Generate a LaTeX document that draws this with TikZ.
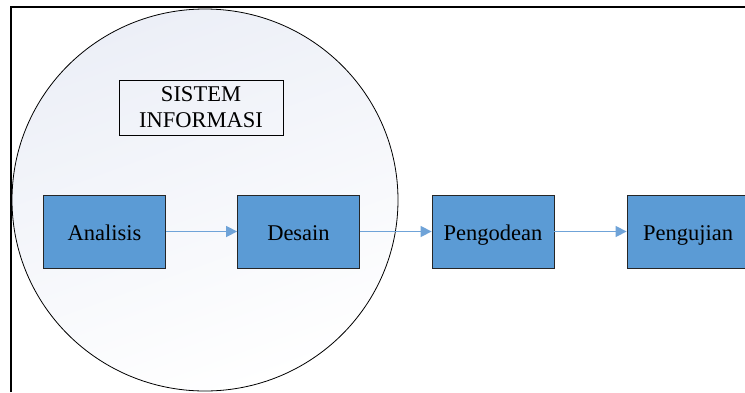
\documentclass[tikz,border=0pt]{standalone}
\usepackage{fontspec}
\setmainfont{Liberation Serif}
\usetikzlibrary{arrows.meta}
\definecolor{tahapbiru}{HTML}{5B9BD5}
\definecolor{panahbiru}{HTML}{6FA3D8}
\definecolor{lingkar}{HTML}{ECEFF7}
\tikzset{
	tahap/.style={draw=black!85, fill=tahapbiru, line width=.8pt, minimum width=122pt, minimum height=73pt, inner sep=0pt, text height=19pt, text depth=2pt},
	alur/.style={draw=panahbiru, line width=1.5pt, -{Triangle[length=11pt,width=11pt]}}
}

\begin{document}
\begin{tikzpicture}[x=1pt,y=-1pt, every node/.style={font=\fontsize{22.5}{26}\selectfont}]
		\clip (0,0) rectangle (745,392);
		\draw[line width=2pt] (11,392) -- (11,7) -- (745,7);
		\draw[line width=.8pt, top color=lingkar, bottom color=white, shading angle=20] (205,200) ellipse (193 and 191);
		\node[draw, line width=.8pt, minimum width=164pt, minimum height=55pt, inner sep=0pt, align=center] (judul) at (201,107.5) {SISTEM\\INFORMASI};
		
		\node[tahap] (analisis) at (104.5,231.5) {Analisis};
		\node[tahap] (desain) at (298.5,231.5) {Desain};
		\node[tahap] (kode) at (493,231.5) {Pengodean};
		\node[tahap] (uji) at (688,231.5) {Pengujian};
		
		\draw[alur] (analisis) -- (desain);
		\draw[alur] (desain) -- (kode);
		\draw[alur] (kode) -- (uji);
		\end{tikzpicture}
\end{document}
